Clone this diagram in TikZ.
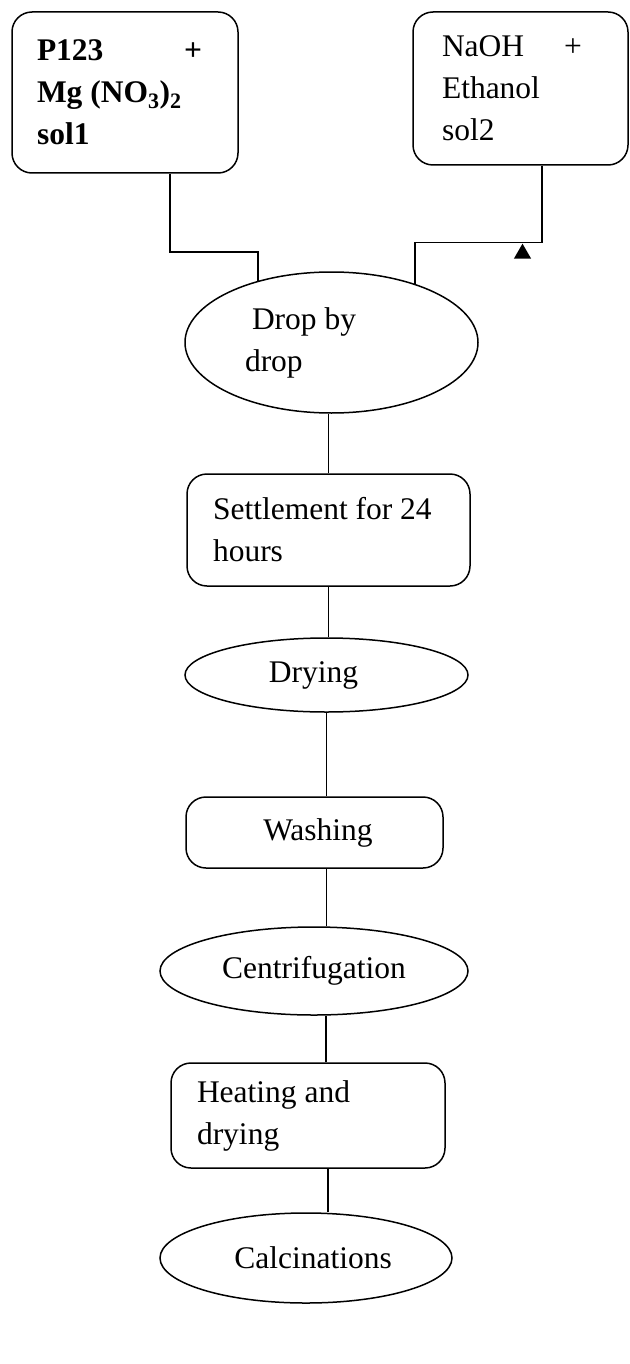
\documentclass[tikz,border=0pt]{standalone}
\usepackage{fontspec}
\setmainfont{Liberation Serif}
\usepackage{tikz}
\usetikzlibrary{shapes.geometric}

\begin{document}
\begin{tikzpicture}[x=1pt, y=-1pt, line width=1.5pt,
    every node/.style={draw, inner sep=0pt, font=\fontsize{31.5}{42}\selectfont},
    box/.style={rectangle, rounded corners=20pt, align=flush left},
    oval/.style={ellipse}]
     \useasboundingbox (0,0) rectangle (629,1364);

     \node[box, minimum width=226, minimum height=161, text width=176] (sol1) at (125, 92.5)
        {\bfseries\makebox[165pt][l]{P123\hfill+}\\ Mg (NO\textsubscript{3})\textsubscript{2}\\ sol1};
     \node[box, minimum width=215, minimum height=153, text width=157] (sol2) at (520.5, 88.5)
        {\makebox[140pt][l]{NaOH\hfill+}\\ Ethanol\\ sol2};
     \node[oval, minimum width=293, minimum height=141, text width=173, align=flush left] (drop) at (331.5, 342.5)
        {\hspace*{7pt}Drop by\\ drop};
     \node[box, minimum width=283, minimum height=112, text width=231] (settle) at (328.5, 530)
        {Settlement for 24\\ hours};
     \node[oval, minimum width=283, minimum height=74] (drying) at (326.5, 675) {\kern-26pt Drying};
     \node[box, minimum width=257, minimum height=71, align=none] (washing) at (314.5, 832.5) {\kern7pt Washing};
     \node[oval, minimum width=308, minimum height=88] (centrif) at (314, 971) {Centrifugation};
     \node[box, minimum width=274, minimum height=105, text width=222] (heating) at (308, 1115.5)
        {Heating and\\ drying};
     \node[oval, minimum width=292, minimum height=90] (calc) at (306, 1258) {\kern14pt Calcinations};
     \node[fill, regular polygon, regular polygon sides=3, minimum size=17] (tri) at (522.5, 253.7) {};

     \draw ([xshift=45pt]sol1.south) -- ++(0,78) -| (drop.140);
     \draw ([xshift=21.5pt]sol2.south) -- ++(0,77) -| (drop.35);
     \draw (settle.north) -- (settle.north |- drop.south);
     \draw (settle.south) -- (settle.south |- drying.north);
     \draw (drying.south) -- (drying.south |- washing.north);
     \draw ([xshift=12pt]washing.south) -- ([xshift=12pt]washing.south |- centrif.north);
     \draw ([xshift=18pt]heating.north) -- ([xshift=18pt]heating.north |- centrif.south);
     \draw ([xshift=20pt]heating.south) -- ([xshift=20pt]heating.south |- calc.north);
    \end{tikzpicture}
\end{document}
